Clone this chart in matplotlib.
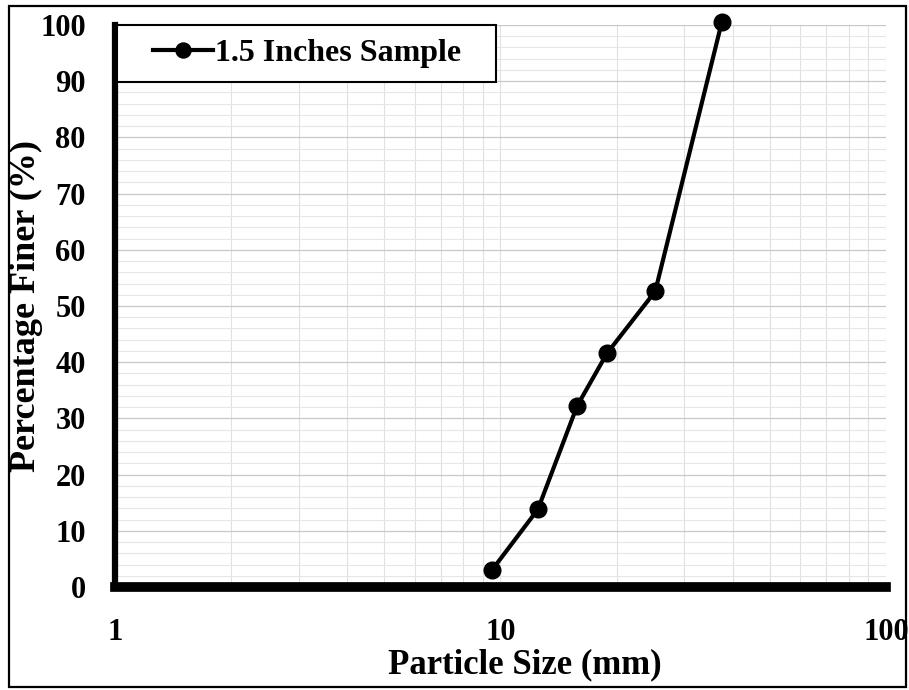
import matplotlib
matplotlib.use("Agg")
import matplotlib.pyplot as plt
from matplotlib.patches import Rectangle
from matplotlib.ticker import FixedLocator, NullFormatter, LogLocator

# Sieve analysis of the 1.5 inch sample
size_mm = [9.5, 12.5, 15.8, 18.9, 25.2, 37.5]
pct_finer = [3.0, 13.8, 32.2, 41.6, 52.6, 100.5]
series_name = "1.5 Inches Sample"
x_ticks = [1, 10, 100]
y_ticks = list(range(0, 101, 10))

plt.rcParams["font.family"] = ["Liberation Serif", "DejaVu Serif"]
plt.rcParams["font.weight"] = "bold"

fig = plt.figure(figsize=(9.09, 6.9), dpi=100)
ax = fig.add_axes([0.1265, 0.1493, 0.8482, 0.8145])

ax.set_xscale("log")
ax.set_xlim(1, 100)
ax.set_ylim(0, 100)

# grid: darker every 10 %, light minor lines
ax.xaxis.set_major_locator(FixedLocator(x_ticks))
ax.xaxis.set_minor_locator(LogLocator(base=10, subs=range(2, 10)))
ax.xaxis.set_minor_formatter(NullFormatter())
ax.set_xticklabels([str(t) for t in x_ticks])
ax.yaxis.set_major_locator(FixedLocator(y_ticks))
ax.yaxis.set_minor_locator(FixedLocator(range(0, 101, 2)))
ax.grid(True, which="major", axis="y", color="#c8c8c8", lw=0.9)
ax.grid(True, which="minor", axis="y", color="#e6e6e6", lw=0.8)
ax.grid(True, which="both", axis="x", color="#e0e0e0", lw=0.8)
ax.set_axisbelow(True)

ax.tick_params(which="both", length=0)
ax.tick_params(axis="y", pad=21, labelsize=22)
ax.tick_params(axis="x", pad=22, labelsize=22)

for s in ("top", "right"):
    ax.spines[s].set_visible(False)
ax.spines["left"].set_linewidth(4.5)
ax.spines["bottom"].set_linewidth(7)
ax.spines["left"].set_zorder(6)
ax.spines["bottom"].set_zorder(6)

ax.plot(size_mm, pct_finer, color="black", lw=3, marker="o", ms=12,
        label=series_name, clip_on=False, zorder=5)

ax.set_ylabel("Percentage Finer (%)", fontsize=26, fontweight="bold")
ax.set_xlabel("Particle Size (mm)", fontsize=25, fontweight="bold")
ax.yaxis.set_label_coords(-0.094, 0.5)
ax.xaxis.set_label_coords(0.532, -0.109)

# legend box in the upper left corner
ax.add_patch(Rectangle((0.003, 0.898), 0.491, 0.102, transform=ax.transAxes,
                       facecolor="white", edgecolor="black", lw=1.5,
                       zorder=7, clip_on=False))
leg = ax.legend(loc="center", bbox_to_anchor=(0.249, 0.949), frameon=False,
                fontsize=23, handlelength=1.9, handletextpad=0.05,
                borderpad=0, markerscale=0.9)
leg.set_zorder(8)

# frame round the whole figure
fig.patches.append(Rectangle((0.010, 0.004), 0.987, 0.987, transform=fig.transFigure,
                             fill=False, edgecolor="black", lw=1.6))

fig.savefig("out.png", dpi=100)
